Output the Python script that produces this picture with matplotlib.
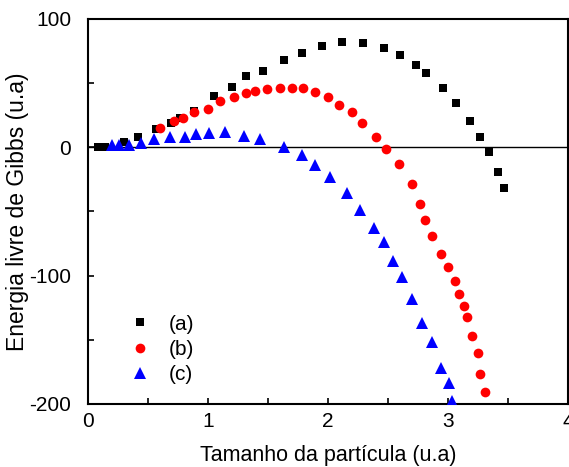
import matplotlib
matplotlib.use("Agg")
import matplotlib.pyplot as plt
from matplotlib.ticker import MultipleLocator

plt.rcParams['font.family'] = ['Liberation Sans', 'DejaVu Sans']
plt.rcParams['axes.unicode_minus'] = False

# serie (a) - quadrados pretos
xa = [0.08, 0.14, 0.30, 0.42, 0.57, 0.69, 0.77, 0.88, 1.05, 1.20, 1.32, 1.46, 1.63, 1.78,
      1.95, 2.12, 2.29, 2.47, 2.60, 2.73, 2.82, 2.96, 3.07, 3.18, 3.27, 3.34, 3.42, 3.47]
ya = [0, 0, 4, 8, 14, 19, 23, 28, 40, 47, 55, 59, 68, 73,
      79, 82, 81, 77, 72, 64, 58, 46, 34, 20, 8, -4, -19, -32]

# serie (b) - circulos vermelhos
xb = [0.60, 0.72, 0.79, 0.88, 1.00, 1.10, 1.22, 1.32, 1.39, 1.49, 1.60, 1.70, 1.79, 1.89,
      2.00, 2.09, 2.20, 2.28, 2.40, 2.48, 2.59, 2.70, 2.77, 2.81, 2.87, 2.94, 3.00, 3.06,
      3.09, 3.13, 3.16, 3.20, 3.25, 3.27, 3.31]
yb = [15, 20, 23, 27, 30, 36, 39, 42, 44, 45, 46, 46, 46, 43,
      39, 33, 27, 19, 8, -1.5, -13, -29, -44, -57, -69, -83, -93, -104,
      -114, -124, -132, -147, -160, -177, -191]

# serie (c) - triangulos azuis
xc = [0.20, 0.26, 0.34, 0.44, 0.55, 0.68, 0.81, 0.90, 1.01, 1.14, 1.30, 1.43, 1.63, 1.78,
      1.89, 2.02, 2.16, 2.27, 2.38, 2.47, 2.54, 2.62, 2.70, 2.78, 2.87, 2.94, 3.01, 3.03]
yc = [2, 2, 2, 3, 6, 8, 8, 10, 11, 12, 9, 6, 0, -6,
      -14, -23, -36, -49, -63, -74, -89, -101, -118, -137, -152, -172, -184, -198]

labels = ['(a)', '(b)', '(c)']

fig = plt.figure(figsize=(5.69, 4.67), dpi=100)
ax = fig.add_axes([0.1547, 0.135, 0.8435, 0.825])

ax.axhline(0, color='black', lw=1.0, zorder=1)
ax.plot(xa, ya, ls='none', marker='s', ms=5.8, color='black', mew=0, label=labels[0], zorder=3)
ax.plot(xb, yb, ls='none', marker='o', ms=7, color='red', mew=0, label=labels[1], zorder=3)
ax.plot(xc, yc, ls='none', marker='^', ms=8, color='blue', mew=0, label=labels[2], zorder=3)

ax.set_xlim(0, 4)
ax.set_ylim(-200, 100)
ax.xaxis.set_major_locator(MultipleLocator(1))
ax.xaxis.set_minor_locator(MultipleLocator(0.5))
ax.yaxis.set_major_locator(MultipleLocator(100))
ax.yaxis.set_minor_locator(MultipleLocator(50))
ax.tick_params(which='both', direction='in', labelsize=15, width=1.2, length=4)
ax.tick_params(axis='x', pad=6)
ax.tick_params(axis='y', pad=12)
for s in ax.spines.values():
    s.set_linewidth(1.5)

ax.set_xlabel('Tamanho da partícula (u.a)', fontsize=15.5, labelpad=10)
ax.set_ylabel('Energia livre de Gibbs (u.a)', fontsize=16.5, labelpad=0)

ax.legend(loc='lower left', bbox_to_anchor=(0.056, 0.03), frameon=False, fontsize=15,
          handletextpad=0.6, labelspacing=0.3, borderaxespad=0, handlelength=1.6)

fig.savefig('out.png', dpi=100)
